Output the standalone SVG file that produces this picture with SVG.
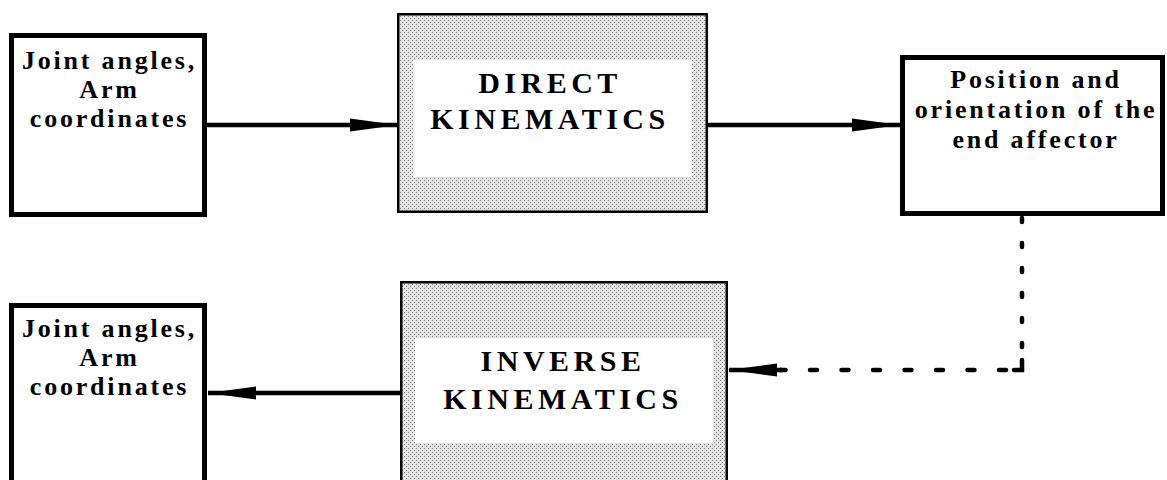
<svg xmlns="http://www.w3.org/2000/svg" width="1167" height="480" viewBox="0 0 1167 480">
<style>
.box{fill:#fff;stroke:#000;stroke-width:5}
.kbox{fill:url(#stip);stroke:#000;stroke-width:2.5}
.inner{fill:#fff;stroke:none}
.t{font-family:"Liberation Serif","Times New Roman",serif;font-weight:bold;font-size:26px;letter-spacing:2.8px;text-anchor:middle;fill:#000}
.k{font-family:"Liberation Serif","Times New Roman",serif;font-weight:bold;font-size:30px;letter-spacing:4.5px;text-anchor:middle;fill:#000}
.line{stroke:#000;stroke-width:4.5;fill:none}
.dash{stroke:#000;stroke-width:4.5;fill:none;stroke-linecap:round}
</style>
<defs>
<pattern id="stip" width="4" height="4" patternUnits="userSpaceOnUse">
<rect width="4" height="4" fill="#e4e4e4"/>
<rect x="0" y="0" width="1" height="1" fill="#7a7a7a"/>
<rect x="2" y="2" width="1" height="1" fill="#7a7a7a"/>
</pattern>
<marker id="ah" markerUnits="userSpaceOnUse" markerWidth="50" markerHeight="14" refX="48" refY="7" orient="auto" viewBox="0 0 50 14">
<path d="M0,0.5 L48,7 L0,13.5 z" fill="#000"/>
</marker>
</defs>
<g id="connectors">
<line class="line" x1="207" y1="125" x2="398" y2="125" marker-end="url(#ah)"/>
<line class="line" x1="708" y1="125" x2="900" y2="125" marker-end="url(#ah)"/>
<line class="line" x1="400" y1="393" x2="208" y2="393" marker-end="url(#ah)"/>
<g id="feedback">
<line class="dash" x1="1022" y1="218" x2="1022" y2="368" stroke-dasharray="4 21"/>
<path class="dash" d="M1022,360 L1022,370 L1014,370"/>
<line class="dash" x1="1006" y1="370" x2="780" y2="370" stroke-dasharray="7 24.5"/>
<line class="line" x1="782" y1="370" x2="729" y2="370" stroke-width="0" marker-end="url(#ah)"/>
</g>
</g>
<g id="input-top">
<rect class="box" x="11.5" y="35.5" width="193" height="179"/>
<text class="t" x="109.5" y="69">Joint angles,</text>
<text class="t" x="109.5" y="98">Arm</text>
<text class="t" x="109.5" y="127">coordinates</text>
</g>
<g id="direct-kinematics">
<rect class="kbox" x="398.25" y="14.25" width="308.5" height="197.5"/>
<rect class="inner" x="413" y="60" width="279" height="117"/>
<text class="k" x="550" y="93">DIRECT</text>
<text class="k" x="550" y="129">KINEMATICS</text>
</g>
<g id="end-effector">
<rect class="box" x="902.5" y="57.5" width="260" height="156"/>
<text class="t" x="1036" y="88">Position and</text>
<text class="t" x="1036" y="118">orientation of the</text>
<text class="t" x="1036" y="148">end affector</text>
</g>
<g id="inverse-kinematics">
<rect class="kbox" x="401.25" y="282.25" width="325.5" height="220"/>
<rect class="inner" x="415" y="338" width="298" height="105"/>
<text class="k" x="563" y="371">INVERSE</text>
<text class="k" x="563" y="409">KINEMATICS</text>
</g>
<g id="output-bottom">
<rect class="box" x="11.5" y="305.5" width="193" height="200"/>
<text class="t" x="109.5" y="337">Joint angles,</text>
<text class="t" x="109.5" y="366">Arm</text>
<text class="t" x="109.5" y="395">coordinates</text>
</g>
</svg>
